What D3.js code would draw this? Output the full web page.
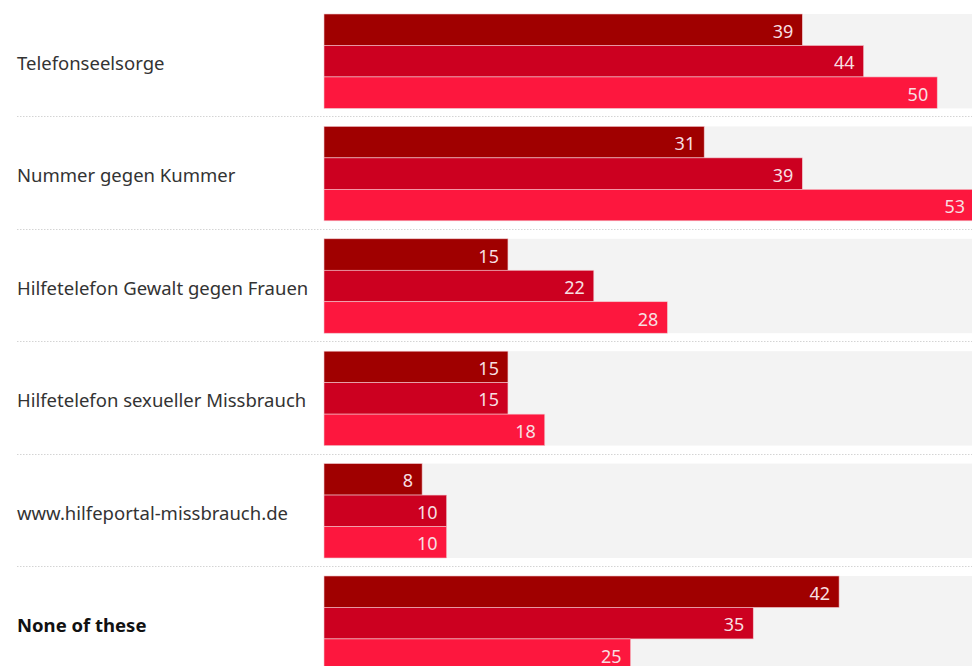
<!DOCTYPE html>
<html>
<head>
<meta charset="utf-8">
<script src="https://cdn.jsdelivr.net/npm/d3@7"></script>
<style>
  body { margin: 0; background: #fff; }
  svg { display: block; font-family: "Noto Sans", Lato, sans-serif; }
  .cat-label { fill: #333; font-size: 18.5px; }
  .val-label { fill: #f7dfe1; font-size: 18px; text-anchor: end; }
  .sep { stroke: #d4d4d4; stroke-width: 1; stroke-dasharray: 1.5,1.5; }
</style>
</head>
<body>
<div id="chart"></div>
<script>
// categories (top to bottom)
const categories = [
  "Telefonseelsorge",
  "Nummer gegen Kummer",
  "Hilfetelefon Gewalt gegen Frauen",
  "Hilfetelefon sexueller Missbrauch",
  "www.hilfeportal-missbrauch.de",
  "None of these"
];
const seriesNames = ["Series 1", "Series 2", "Series 3"];
const series1 = [39, 31, 15, 15, 8, 42];
const series2 = [44, 39, 22, 15, 10, 35];
const series3 = [50, 53, 28, 18, 10, 25];
const seriesColors = ["#a00000", "#cc0020", "#fd173e"];

const w = 972, h = 666;
const svg = d3.select("#chart").append("svg")
  .attr("width", w)
  .attr("height", h);

const allSeries = [series1, series2, series3];

const x = d3.scaleLinear()
  .domain([0, 53])
  .range([324, 974]);

// group bands
const y = d3.scaleBand()
  .domain(categories)
  .range([14, 14 + 6 * 112.4 - 18])
  .paddingInner(0.16)
  .paddingOuter(0);

const ySub = d3.scaleBand()
  .domain(d3.range(seriesNames.length))
  .range([0, y.bandwidth()]);

const groups = svg.selectAll(".group")
  .data(categories)
  .enter()
  .append("g")
    .classed("group", true)
    .attr("transform", d => "translate(0," + y(d) + ")");

// grey background track
groups.append("rect")
  .attr("x", x(0))
  .attr("y", 0)
  .attr("width", w - x(0))
  .attr("height", y.bandwidth())
  .style("fill", "#f3f3f3");

// bars
groups.each(function(cat, ci) {
  const g = d3.select(this);
  const rows = allSeries.map((s, si) => ({ si: si, value: s[ci] }));
  g.selectAll(".bar")
    .data(rows)
    .enter()
    .append("rect")
      .classed("bar", true)
      .attr("x", x(0))
      .attr("y", d => ySub(d.si))
      .attr("width", d => x(d.value) - x(0))
      .attr("height", ySub.bandwidth())
      .style("fill", d => seriesColors[d.si])
      .style("stroke", "#f2c6cc")
      .style("stroke-width", 0.6);
  g.selectAll(".val-label")
    .data(rows)
    .enter()
    .append("text")
      .classed("val-label", true)
      .attr("x", d => x(d.value) - 9)
      .attr("y", d => ySub(d.si) + ySub.bandwidth() / 2)
      .attr("dy", "0.45em")
      .text(d => d.value);
});

// category labels
groups.append("text")
  .classed("cat-label", true)
  .attr("x", 17)
  .attr("y", y.bandwidth() / 2)
  .attr("dy", "0.48em")
  .style("font-weight", d => d === "None of these" ? "bold" : "normal")
  .style("fill", d => d === "None of these" ? "#111" : "#333")
  .text(d => d);

// dotted separators between groups
const gap = y.step() - y.bandwidth();
svg.selectAll(".sep")
  .data(categories.slice(0, -1))
  .enter()
  .append("line")
    .classed("sep", true)
    .attr("x1", 17)
    .attr("x2", w)
    .attr("y1", d => Math.round(y(d) + y.bandwidth() + gap / 2) - 0.5)
    .attr("y2", d => Math.round(y(d) + y.bandwidth() + gap / 2) - 0.5);
</script>
</body>
</html>
